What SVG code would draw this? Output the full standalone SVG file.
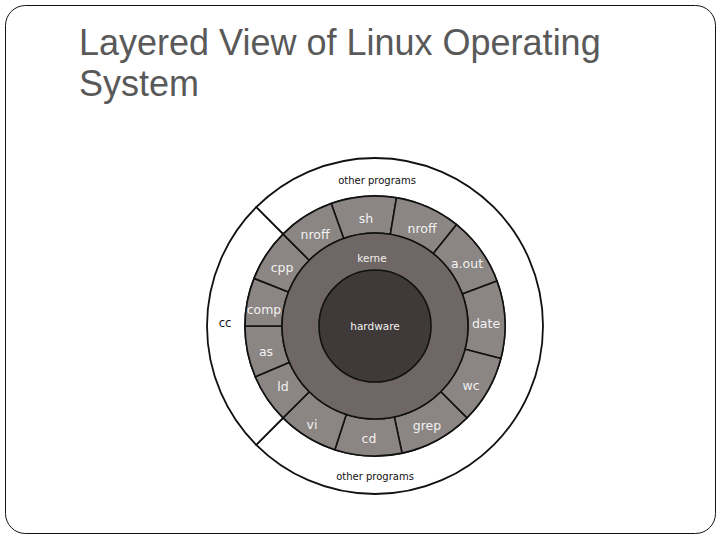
<svg xmlns="http://www.w3.org/2000/svg" width="720" height="540" viewBox="0 0 720 540">
<style>
.title{font-family:"Liberation Sans",Arial,sans-serif;font-size:36px;fill:#595959}
.seg{fill:#8b8584;stroke:#111;stroke-width:1.6}
.ring{fill:#fff;stroke:#111;stroke-width:1.8}
.lab{font-family:"DejaVu Sans",Verdana,sans-serif;font-size:12.5px;fill:#f2f2f2;text-anchor:middle;dominant-baseline:central}
.dark{font-family:"DejaVu Sans",Verdana,sans-serif;font-size:10px;fill:#111;text-anchor:middle;dominant-baseline:central}
.in{font-family:"DejaVu Sans",Verdana,sans-serif;font-size:10.5px;fill:#f2f2f2;text-anchor:middle;dominant-baseline:central}
</style>
<rect x="5.5" y="5.5" width="710" height="528" rx="20" ry="20" fill="#fff" stroke="#111" stroke-width="1"/>
<text class="title" x="79" y="55">Layered View of Linux Operating</text>
<text class="title" x="79" y="96">System</text>

<g id="other-programs">
<path class="ring" d="M256.21 207.21 A168 168 0 1 1 256.21 444.79 L283.08 417.92 A130 130 0 1 0 283.08 234.08 Z"/>
<text class="dark" x="377" y="180">other programs</text>
<text class="dark" x="375" y="476">other programs</text>
</g>
<g id="cc">
<path class="ring" d="M256.21 444.79 A168 168 0 0 1 256.21 207.21 L283.08 234.08 A130 130 0 0 0 283.08 417.92 Z"/>
<text class="dark" x="225" y="323" style="font-size:11.5px">cc</text>
</g>

<g id="sh"><path class="seg" d="M331.18 203.60 A130 130 0 0 1 396.45 197.78 L390.35 234.27 A93 93 0 0 0 343.65 238.44 Z"/><text class="lab" x="366" y="218">sh</text></g>
<g id="nroff-right"><path class="seg" d="M396.45 197.78 A130 130 0 0 1 456.46 224.69 L433.27 253.53 A93 93 0 0 0 390.35 234.27 Z"/><text class="lab" x="422" y="228">nroff</text></g>
<g id="a-out"><path class="seg" d="M456.46 224.69 A130 130 0 0 1 497.00 281.11 L462.28 293.89 A93 93 0 0 0 433.27 253.53 Z"/><text class="lab" x="467" y="263">a.out</text></g>
<g id="date"><path class="seg" d="M497.00 281.11 A130 130 0 0 1 500.85 358.55 L465.03 349.29 A93 93 0 0 0 462.28 293.89 Z"/><text class="lab" x="486" y="323">date</text></g>
<g id="wc"><path class="seg" d="M500.85 358.55 A130 130 0 0 1 466.92 417.92 L440.76 391.76 A93 93 0 0 0 465.03 349.29 Z"/><text class="lab" x="471" y="385">wc</text></g>
<g id="grep"><path class="seg" d="M466.92 417.92 A130 130 0 0 1 402.03 453.15 L394.33 416.96 A93 93 0 0 0 440.76 391.76 Z"/><text class="lab" x="427" y="425">grep</text></g>
<g id="cd"><path class="seg" d="M402.03 453.15 A130 130 0 0 1 334.83 449.64 L346.26 414.45 A93 93 0 0 0 394.33 416.96 Z"/><text class="lab" x="369" y="438">cd</text></g>
<g id="vi"><path class="seg" d="M334.83 449.64 A130 130 0 0 1 283.08 417.92 L309.24 391.76 A93 93 0 0 0 346.26 414.45 Z"/><text class="lab" x="312" y="424">vi</text></g>
<g id="ld"><path class="seg" d="M283.08 417.92 A130 130 0 0 1 255.33 376.79 L289.39 362.34 A93 93 0 0 0 309.24 391.76 Z"/><text class="lab" x="283" y="386">ld</text></g>
<g id="as"><path class="seg" d="M255.33 376.79 A130 130 0 0 1 245 326 L282 326 A93 93 0 0 0 289.39 362.34 Z"/><text class="lab" x="266" y="351">as</text></g>
<g id="comp"><path class="seg" d="M245 326 A130 130 0 0 1 254.05 278.35 L288.47 291.92 A93 93 0 0 0 282 326 Z"/><text class="lab" x="264" y="309">comp</text></g>
<g id="cpp"><path class="seg" d="M254.05 278.35 A130 130 0 0 1 283.08 234.08 L309.24 260.24 A93 93 0 0 0 288.47 291.92 Z"/><text class="lab" x="282" y="267">cpp</text></g>
<g id="nroff-left"><path class="seg" d="M283.08 234.08 A130 130 0 0 1 331.18 203.60 L343.65 238.44 A93 93 0 0 0 309.24 260.24 Z"/><text class="lab" x="315" y="234">nroff</text></g>

<g id="kernel">
<circle cx="375" cy="326" r="93" fill="#6f6765" stroke="#111" stroke-width="1.6"/>
<text class="in" x="372" y="258">kerne</text>
</g>
<g id="hardware">
<circle cx="375" cy="326" r="56" fill="#3f3939" stroke="#111" stroke-width="1.6"/>
<text class="in" x="375" y="326">hardware</text>
</g>
</svg>
